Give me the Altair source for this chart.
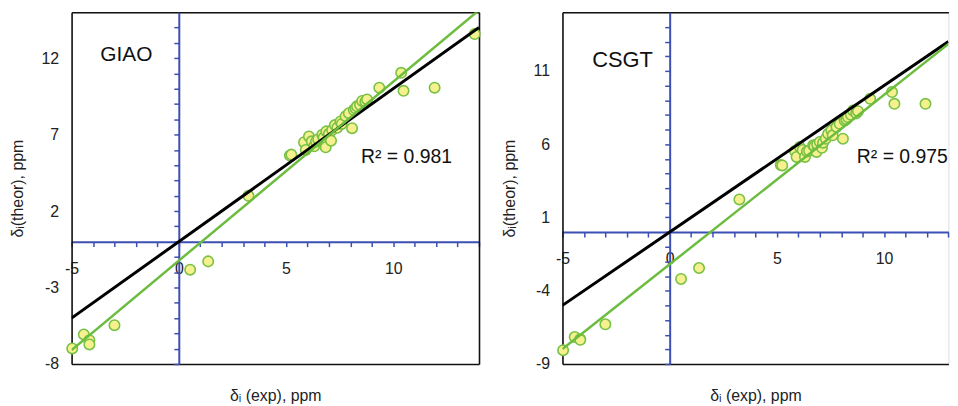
import altair as alt
import pandas as pd

# ---- data ----
exp_ppm = [-4.97, -4.43, -4.17, -4.17, -3.00, 0.53, 1.37, 3.25, 5.18, 5.25,
           5.84, 5.92, 6.07, 6.20, 6.31, 6.40, 6.50, 6.69, 6.75, 6.85,
           6.88, 7.00, 7.10, 7.15, 7.28, 7.39, 7.54, 7.60, 7.78, 7.93,
           8.08, 8.16, 8.24, 8.31, 8.45, 8.55, 8.70, 8.78, 9.35, 10.37,
           10.48, 11.93, 13.80]
giao_ppm = [-6.98, -6.07, -6.44, -6.72, -5.46, -1.83, -1.29, 3.00, 5.63, 5.69,
            6.50, 6.00, 6.88, 6.56, 6.23, 6.55, 6.70, 6.99, 6.80, 6.17,
            7.21, 7.05, 6.60, 7.30, 7.62, 7.45, 7.86, 7.70, 8.20, 8.40,
            7.42, 8.60, 8.72, 8.85, 8.95, 9.20, 9.15, 9.30, 10.07, 11.04,
            9.86, 10.07, 13.57]
csgt_ppm = [-8.06, -7.16, -7.31, -7.35, -6.29, -3.20, -2.45, 2.23, 4.57, 4.55,
            5.54, 5.13, 5.81, 5.60, 5.13, 5.50, 5.55, 5.93, 5.85, 5.47,
            6.00, 6.15, 5.75, 6.10, 6.37, 6.71, 6.94, 6.60, 7.17, 7.39,
            6.37, 7.62, 7.70, 7.85, 8.00, 8.30, 8.10, 8.25, 9.09, 9.55,
            8.75, 8.75, 12.10]

giao_x_domain = [-5, 14]
csgt_x_domain = [-5, 13]          # right panel is cut off at the picture edge
giao_y_domain = [-8, 15]
csgt_y_domain = [-9, 15]
giao_y_labels = [-8, -3, 2, 7, 12]
csgt_y_labels = [-9, -4, 1, 6, 11]
method_names = ["GIAO", "CSGT"]
method_label_x = [-2.45, -2.2]
method_label_y = [12.2, 11.75]
r2_texts = ["R² = 0.981", "R² = 0.975"]
r2_x = [10.62, 10.85]
r2_y = [5.55, 5.1]

FONT = "Liberation Sans"
BLUE = "#3c4fb2"
GREEN = "#6cbd3f"
PT_STROKE = "#78c144"
PT_FILL = "#f6f18e"
FRAME = "#111111"
PX_PER_X = 410 / 19
H = 354


def panel(theor, xdom, ydom, ylabels, name, nx, ny, r2, rx, ry, name_size, right_border):
    W = (xdom[1] - xdom[0]) * PX_PER_X
    df = pd.DataFrame({"exp": exp_ppm, "theor": theor})
    xscale = alt.Scale(domain=xdom, nice=False, zero=False)
    yscale = alt.Scale(domain=ydom, nice=False, zero=False)
    x_off = -(0 - ydom[0]) / (ydom[1] - ydom[0]) * H
    y_off = -(0 - xdom[0]) / (xdom[1] - xdom[0]) * W
    x_minor = list(range(int(xdom[0]), int(xdom[1]) + 1))
    y_minor = list(range(ydom[0], ydom[1]))

    x_blue_axis = alt.Axis(
        orient="bottom", values=x_minor,
        labelExpr="datum.value % 5 == 0 ? toString(datum.value) : ''",
        offset=x_off, domainColor=BLUE, domainWidth=2, tickColor=BLUE,
        tickWidth=1.5, tickSize=5, labelPadding=14, labelFlush=False,
        labelOverlap=False, labelFont=FONT, labelFontSize=16, labelColor="#222",
        title=None, grid=False,
    )
    x_frame_axis = alt.Axis(
        orient="bottom", offset=0, domainColor=FRAME, domainWidth=1.6,
        ticks=False, labels=False, grid=False,
        title="δᵢ (exp), ppm", titleFont=FONT, titleFontSize=16,
        titleFontWeight="normal", titleColor="#222",
        titleBaseline="alphabetic", titleY=37,
    )
    x_top_axis = alt.Axis(
        orient="top", offset=0, domainColor=FRAME, domainWidth=1.6,
        ticks=False, labels=False, grid=False, title=None,
    )
    y_lab_axis = alt.Axis(
        orient="left", values=ylabels, labelExpr="toString(datum.value)",
        domainColor=FRAME, domainWidth=1.6,
        ticks=False, labelPadding=13, labelFont=FONT, labelFontSize=16,
        labelColor="#222", title="δᵢ(theor), ppm", titleFont=FONT,
        titleFontSize=16, titleFontWeight="normal", titleColor="#222",
        titlePadding=16, grid=False,
    )
    y_blue_axis = alt.Axis(
        orient="left", values=y_minor, offset=y_off, domainColor=BLUE,
        domainWidth=2, tickColor=BLUE, tickWidth=1.5, tickSize=5,
        labels=False, title=None, grid=False,
    )
    y_right_axis = alt.Axis(
        orient="right", offset=0, domainColor=FRAME, domainWidth=1.6,
        ticks=False, labels=False, grid=False, title=None,
    ) if right_border else None

    base = alt.Chart(df)
    pts = base.transform_filter(
        f"datum.exp <= {xdom[1]}"
    ).mark_point(
        shape="circle", filled=True, fill=PT_FILL, stroke=PT_STROKE,
        strokeWidth=1.6, size=110, opacity=1,
    ).encode(
        x=alt.X("exp:Q", scale=xscale, axis=x_blue_axis),
        y=alt.Y("theor:Q", scale=yscale, axis=y_lab_axis),
    )
    identity = alt.Chart(pd.DataFrame({"exp": xdom})).transform_calculate(
        theor="datum.exp"
    ).mark_line(color="black", strokeWidth=3, clip=True).encode(
        x=alt.X("exp:Q", scale=xscale, axis=x_frame_axis),
        y=alt.Y("theor:Q", scale=yscale, axis=y_blue_axis),
    )
    fit = base.transform_regression("exp", "theor", extent=xdom).mark_line(
        color=GREEN, strokeWidth=2.5, clip=True
    ).encode(
        x=alt.X("exp:Q", scale=xscale, axis=x_top_axis),
        y=alt.Y("theor:Q", scale=yscale, axis=y_right_axis),
    )
    name_txt = alt.Chart(pd.DataFrame({"exp": [nx], "theor": [ny], "t": [name]})).mark_text(
        font=FONT, fontSize=name_size, color="#111"
    ).encode(
        x=alt.X("exp:Q", scale=xscale, axis=None),
        y=alt.Y("theor:Q", scale=yscale, axis=None), text="t:N",
    )
    r2_txt = alt.Chart(pd.DataFrame({"exp": [rx], "theor": [ry], "t": [r2]})).mark_text(
        font=FONT, fontSize=19.5, color="#111"
    ).encode(
        x=alt.X("exp:Q", scale=xscale, axis=None),
        y=alt.Y("theor:Q", scale=yscale, axis=None), text="t:N",
    )
    return alt.layer(pts, identity, fit, name_txt, r2_txt).resolve_axis(
        x="independent", y="independent"
    ).properties(width=W, height=H)


left = panel(giao_ppm, giao_x_domain, giao_y_domain, giao_y_labels,
             method_names[0], method_label_x[0], method_label_y[0],
             r2_texts[0], r2_x[0], r2_y[0], 21, True)
right = panel(csgt_ppm, csgt_x_domain, csgt_y_domain, csgt_y_labels,
              method_names[1], method_label_x[1], method_label_y[1],
              r2_texts[1], r2_x[1], r2_y[1], 22, False)

chart = alt.hconcat(left, right, spacing=16).properties(
    padding={"left": 0, "top": 2, "right": 0, "bottom": 0}
).configure_view(stroke=None).configure(background="white")

chart.save("out.html", embed_options={"renderer": "svg", "actions": False})
